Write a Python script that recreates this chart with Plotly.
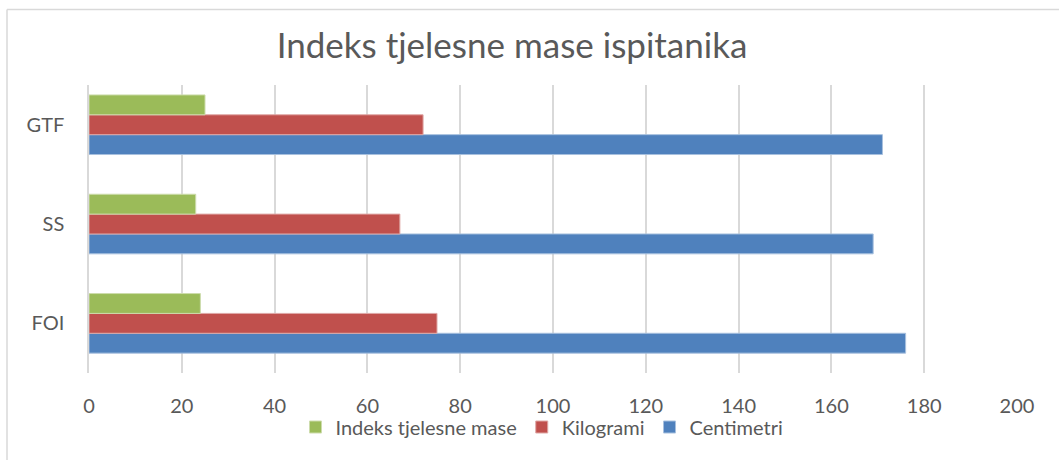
import plotly.graph_objects as go

categories = ["FOI", "SS", "GTF"]
centimetri = [176, 169, 171]
kilogrami = [75, 67, 72]
indeks = [24, 23, 25]
x_ticks = [0, 20, 40, 60, 80, 100, 120, 140, 160, 180, 200]

FONT = "Lato, Open Sans, sans-serif"
GREY = "#595959"

fig = go.Figure()
fig.add_trace(go.Bar(y=categories, x=centimetri, name="Centimetri", orientation="h",
                     marker=dict(color="#4f81bd", line=dict(color="#a7c0de", width=1))))
fig.add_trace(go.Bar(y=categories, x=kilogrami, name="Kilogrami", orientation="h",
                     marker=dict(color="#c0504d", line=dict(color="#dfa8a6", width=1))))
fig.add_trace(go.Bar(y=categories, x=indeks, name="Indeks tjelesne mase", orientation="h",
                     marker=dict(color="#9bbb59", line=dict(color="#cddcac", width=1))))

fig.update_layout(
    width=1059, height=460,
    margin=dict(l=89, r=42, t=85, b=87),
    paper_bgcolor="white", plot_bgcolor="white",
    barmode="group", bargap=0.4, bargroupgap=0,
    font=dict(family=FONT, color=GREY, size=19),
    title=dict(text="Indeks tjelesne mase ispitanika", x=512 / 1059, xanchor="center",
               y=1 - 46 / 460, yanchor="middle", font=dict(size=35, color=GREY, family=FONT)),
    legend=dict(orientation="h", x=(542 - 89) / 928, xanchor="center", y=-(427 - 373) / 288,
                yanchor="middle", traceorder="reversed", font=dict(size=20, color=GREY, family=FONT),
                itemwidth=30, bgcolor="rgba(0,0,0,0)"),
    showlegend=True,
)
fig.update_xaxes(range=[0, 200], tickvals=x_ticks, showgrid=True, gridcolor="#d9d9d9", gridwidth=1.5,
                 zeroline=False, showline=False, ticks="", ticklabelstandoff=19,
                 tickfont=dict(size=20, color=GREY, family=FONT))
fig.update_yaxes(range=[-0.5, 2.4], categoryorder="array", categoryarray=categories,
                 showgrid=False, zeroline=False, showline=True, linecolor="#d9d9d9", linewidth=1.5,
                 ticks="", ticklabelstandoff=19, tickfont=dict(size=20, color=GREY, family=FONT))

# chart border (top and left edges visible)
border_x = -(89 - 7) / 928
border_y = (373 - 9.5) / 288
fig.add_shape(type="line", xref="paper", yref="paper", x0=border_x, x1=1.1, y0=border_y, y1=border_y,
              line=dict(color="#d9d9d9", width=1.5))
fig.add_shape(type="line", xref="paper", yref="paper", x0=border_x, x1=border_x, y0=border_y, y1=-0.4,
              line=dict(color="#d9d9d9", width=1.5))

fig.write_html("out.html", config={"displayModeBar": False},
               post_script="document.body.style.margin='0';")
